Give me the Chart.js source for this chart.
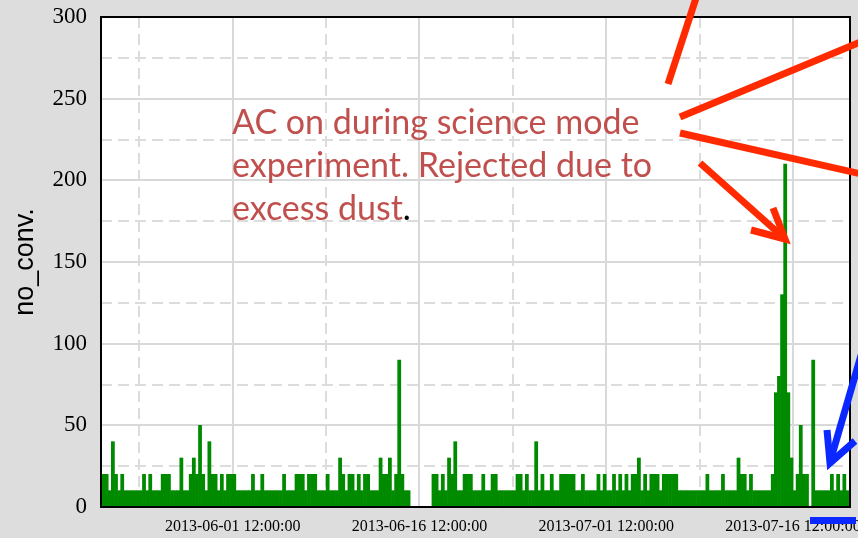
<!DOCTYPE html>
<html>
<head>
<meta charset="utf-8">
<script src="https://cdn.jsdelivr.net/npm/chart.js@4.4.0/dist/chart.umd.min.js"></script>
<style>
  html, body { margin: 0; padding: 0; background: #dddddd; }
  canvas { display: block; }
</style>
</head>
<body>
<canvas id="chart" width="858" height="538"></canvas>
<script>
// no_conv. per 6-hour bin, first bin starts 2013-05-21 00:00
const binStart = -10.5;   // days relative to 2013-06-01 12:00
const binDays = 0.25;
const noConv = [
  20, 20, 10, 40, 20, 10, 20, 10, 10, 10, 10, 10, 10, 20, 10, 20, 10, 10, 10, 20,
  20, 20, 10, 10, 10, 30, 10, 10, 20, 30, 20, 50, 20, 10, 40, 20, 20, 10, 20, 10,
  20, 20, 20, 10, 10, 10, 10, 10, 20, 10, 10, 20, 10, 10, 10, 10, 10, 10, 20, 10,
  10, 10, 20, 20, 20, 10, 20, 20, 20, 10, 10, 10, 20, 10, 10, 10, 30, 20, 10, 20,
  20, 10, 20, 10, 20, 20, 10, 10, 10, 30, 20, 20, 30, 10, 20, 90, 20, 10, 10, 0,
   0,  0,  0,  0,  0,  0, 20, 20, 10, 20, 10, 30, 20, 40, 10, 10, 20, 20, 20, 10,
  10, 10, 20, 10, 10, 20, 20, 10, 10, 10, 10, 10, 10, 20, 20, 10, 20, 10, 10, 40,
  10, 20, 10, 10, 20, 10, 10, 20, 20, 20, 20, 20, 10, 10, 20, 10, 10, 10, 10, 20,
  10, 20, 10, 10, 20, 10, 20, 10, 20, 10, 20, 20, 30, 10, 20, 10, 20, 20, 20, 10,
  20, 20, 20, 20, 20, 10, 10, 10, 10, 10, 10, 10, 10, 10, 20, 10, 10, 10, 10, 20,
  10, 10, 10, 10, 30, 20, 20, 10, 20, 10, 10, 10, 10, 10, 10, 20, 70, 80, 130, 210,
  70, 30, 10, 20, 50, 20, 20,  0, 90, 10, 10, 10, 10, 10, 20, 10, 20, 10, 20, 10
];

const xMin = -10.58;
const xMax = 49.58;
const tickDays = [0, 15, 30, 45];
const tickLabels = ['2013-06-01 12:00:00', '2013-06-16 12:00:00', '2013-07-01 12:00:00', '2013-07-16 12:00:00'];
const minorDays = [-7.5, 7.5, 22.5, 37.5];
const yTicks = [0, 50, 100, 150, 200, 250, 300];
const yMinor = [25, 75, 125, 175, 225, 275];

const noteLines = ['AC on during science mode', 'experiment. Rejected due to', 'excess dust'];

const points = noConv.map((v, i) => ({ x: binStart + (i + 0.5) * binDays, y: v }));

const gridSolid = { color: '#d9d9d9', lineWidth: 2, drawTicks: false, offset: false };
const gridDashed = { color: '#dcdcdc', lineWidth: 2, drawTicks: false, offset: false };

// white plot area + black frame
const plotFrame = {
  id: 'plotFrame',
  beforeDraw(chart) {
    const { ctx, chartArea: a } = chart;
    ctx.save();
    ctx.fillStyle = '#ffffff';
    ctx.fillRect(a.left, a.top, a.right - a.left, a.bottom - a.top);
    ctx.restore();
  },
  afterDatasetsDraw(chart) {
    const { ctx, chartArea: a } = chart;
    ctx.save();
    ctx.strokeStyle = '#000';
    ctx.lineWidth = 2;
    ctx.strokeRect(a.left, a.top, a.right - a.left, a.bottom - a.top);
    ctx.restore();
  }
};

function line(ctx, x1, y1, x2, y2) {
  ctx.beginPath();
  ctx.moveTo(x1, y1);
  ctx.lineTo(x2, y2);
  ctx.stroke();
}

// slide annotations drawn over the chart
const callouts = {
  id: 'callouts',
  afterDraw(chart) {
    const ctx = chart.ctx;
    ctx.save();
    ctx.font = '34px Lato';
    ctx.textBaseline = 'alphabetic';
    ctx.fillStyle = '#c0504d';
    const baseY = [134, 177, 220];
    noteLines.forEach((t, i) => ctx.fillText(t, 232, baseY[i]));
    const w = ctx.measureText(noteLines[2]).width;
    ctx.fillStyle = '#000';
    ctx.fillText('.', 232 + w, baseY[2]);

    ctx.strokeStyle = '#ff2a00';
    ctx.lineWidth = 7;
    ctx.lineCap = 'butt';
    line(ctx, 697, -5, 668, 84);
    line(ctx, 680, 117, 870, 38);
    line(ctx, 680, 133, 870, 176);
    line(ctx, 700, 163, 784, 238);
    ctx.lineJoin = 'miter';
    ctx.beginPath();
    ctx.moveTo(751, 230);
    ctx.lineTo(785, 239);
    ctx.lineTo(773, 208);
    ctx.stroke();

    ctx.strokeStyle = '#0a28ff';
    line(ctx, 862, 352, 830, 462);
    ctx.beginPath();
    ctx.moveTo(827, 430);
    ctx.lineTo(830, 463);
    ctx.lineTo(855, 441);
    ctx.stroke();
    line(ctx, 810, 520.5, 856, 520.5);
    ctx.restore();
  }
};

new Chart(document.getElementById('chart'), {
  type: 'bar',
  data: {
    datasets: [{
      data: points,
      backgroundColor: '#008a00',
      borderWidth: 0,
      barPercentage: 1,
      categoryPercentage: 1
    }]
  },
  options: {
    responsive: false,
    animation: false,
    devicePixelRatio: 1,
    layout: { padding: { top: 17, right: 8, left: 0, bottom: 0 } },
    plugins: { legend: { display: false }, tooltip: { enabled: false } },
    scales: {
      x: {
        type: 'linear',
        min: xMin,
        max: xMax,
        offset: false,
        afterBuildTicks: ax => { ax.ticks = tickDays.map(v => ({ value: v })); },
        ticks: {
          autoSkip: false,
          maxRotation: 0,
          padding: 10,
          color: '#000',
          font: { family: 'Liberation Serif', size: 16 },
          callback: v => tickLabels[tickDays.indexOf(v)] || ''
        },
        grid: gridSolid,
        border: { display: false },
        afterFit: s => { s.height = 31; s.paddingLeft = 0; s.paddingRight = 0; }
      },
      xMinor: {
        type: 'linear',
        position: 'bottom',
        min: xMin,
        max: xMax,
        offset: false,
        afterBuildTicks: ax => { ax.ticks = minorDays.map(v => ({ value: v })); },
        ticks: { display: false },
        grid: gridDashed,
        border: { display: false, dash: [11, 6] },
        afterFit: s => { s.height = 0; s.paddingLeft = 0; s.paddingRight = 0; }
      },
      y: {
        min: 0,
        max: 300,
        afterBuildTicks: ax => { ax.ticks = yTicks.map(v => ({ value: v })); },
        ticks: {
          padding: 14,
          color: '#000',
          font: { family: 'Liberation Serif', size: 23 }
        },
        grid: gridSolid,
        border: { display: false },
        title: {
          display: true,
          text: 'no_conv.',
          color: '#000',
          font: { family: 'Liberation Sans', size: 27 },
          padding: { top: 9, bottom: 0 }
        },
        afterFit: s => { s.width = 101; s.paddingTop = 0; s.paddingBottom = 0; }
      },
      yMinor: {
        position: 'left',
        min: 0,
        max: 300,
        afterBuildTicks: ax => { ax.ticks = yMinor.map(v => ({ value: v })); },
        ticks: { display: false },
        grid: gridDashed,
        border: { display: false, dash: [11, 6] },
        afterFit: s => { s.width = 0; s.paddingTop = 0; s.paddingBottom = 0; }
      }
    }
  },
  plugins: [plotFrame, callouts]
});
</script>
</body>
</html>
